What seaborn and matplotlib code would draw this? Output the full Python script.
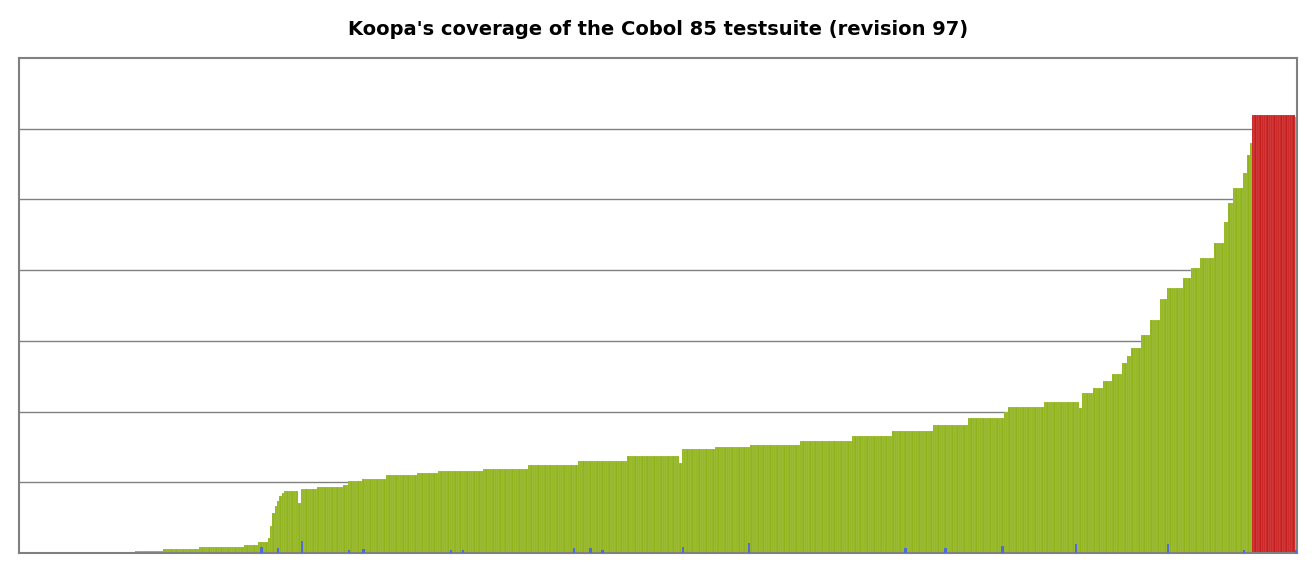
import matplotlib
matplotlib.use("Agg")
import matplotlib.pyplot as plt
import seaborn as sns
import pandas as pd

# green coverage values (runs of bars)
runs = [(27, 0), (13, 1.4), (9, 2), (12, 3.5), (15, 5), (19, 8.5), (6, 11), (4, 16),
        (1, 21), (1, 38), (1, 57), (1, 66), (1, 74), (1, 81), (1, 85),
        (6, 88), (1, 71), (7, 90), (11, 93), (2, 96), (6, 102), (10, 105), (13, 110),
        (9, 113), (19, 116), (19, 119), (21, 124), (21, 130), (22, 137), (1, 127),
        (14, 147), (15, 150), (21, 153), (22, 158), (17, 165), (17, 173), (15, 181),
        (15, 191), (2, 199), (15, 206), (15, 214), (1, 205), (5, 226), (4, 233),
        (4, 243), (4, 253), (2, 269), (2, 279), (4, 290), (4, 308), (4, 330), (3, 359),
        (7, 375), (3, 389), (4, 403), (6, 417), (4, 438), (2, 468), (2, 495), (4, 516),
        (2, 537), (1, 563), (1, 580)]
red_count = 18
red_value = 620
last_value = 617

green = []
for n, v in runs:
    green += [v] * n
values = green + [red_value] * red_count + [last_value]
status = ["pass"] * len(green) + ["fail"] * red_count + ["pass"]

blue_idx = [102, 109, 119, 139, 145, 182, 187, 234, 241, 246, 280, 308, 374, 391, 415, 446, 485, 517, 539]
blue_val = [8.5, 7, 17, 4, 5.5, 4, 4, 7, 7, 4, 8.5, 14, 7, 7, 10, 13, 13, 4, 4]

N = len(values)
df = pd.DataFrame({"i": range(N), "v": values, "s": status})
blue = [0.0] * N
for i, b in zip(blue_idx, blue_val):
    blue[i] = b
dfb = pd.DataFrame({"i": range(N), "v": blue})

fig = plt.figure(figsize=(13.16, 5.74), dpi=100)
ax = fig.add_axes([19 / 1316, 21 / 574, 1278 / 1316, 495 / 574])
ax.set_axisbelow(True)
for y in range(100, 700, 100):
    ax.axhline(y, color="#808080", lw=1, zorder=0)
sns.barplot(data=df, x="i", y="v", hue="s", palette={"pass": "#9dcc00", "fail": "#e60000"},
            dodge=False, width=1.0, edgecolor=(1, 1, 1, 0.3), linewidth=0.3,
            legend=False, ax=ax, zorder=2)
sns.barplot(data=dfb, x="i", y="v", color="#3a5fe8", width=1.0, linewidth=0, ax=ax, zorder=3)
ax.set_xlim(-0.5, N - 0.5)
ax.set_ylim(0, 700)
ax.set_xticks([]); ax.set_yticks([])
ax.set_xlabel(""); ax.set_ylabel("")
for s in ax.spines.values():
    s.set_color("#808080"); s.set_linewidth(1.5)
fig.suptitle("Koopa's coverage of the Cobol 85 testsuite (revision 97)", y=0.965,
             fontsize=14, fontweight="bold", family="DejaVu Sans")
fig.savefig("out.png", dpi=100)
